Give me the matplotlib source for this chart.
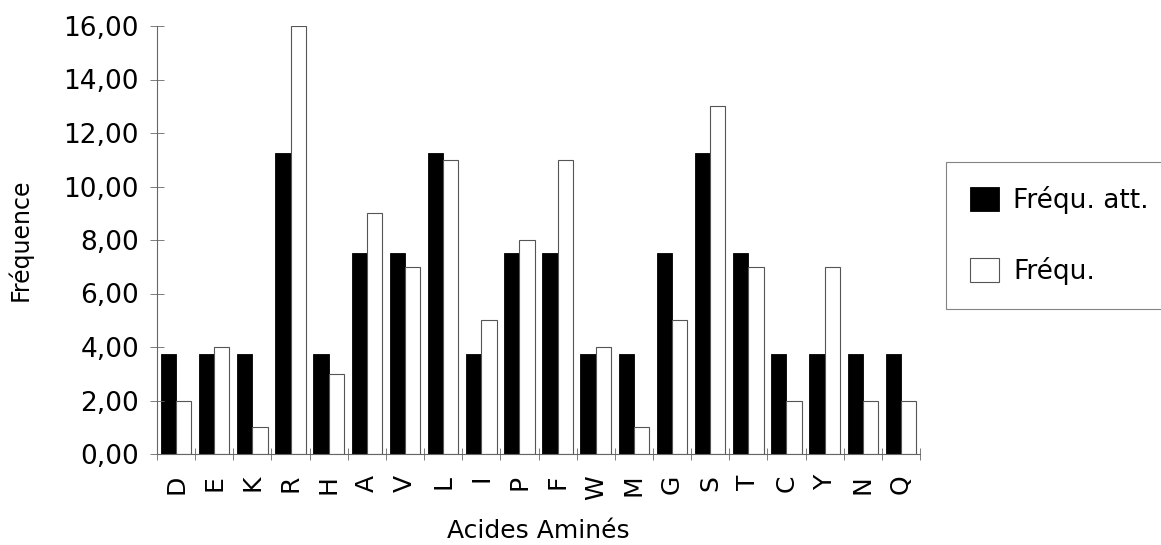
import numpy as np
import matplotlib
matplotlib.use('Agg')
import matplotlib.pyplot as plt
from matplotlib.ticker import FuncFormatter

# acides aminés et fréquences
acides = ['D', 'E', 'K', 'R', 'H', 'A', 'V', 'L', 'I', 'P',
          'F', 'W', 'M', 'G', 'S', 'T', 'C', 'Y', 'N', 'Q']
freq_att = [3.75, 3.75, 3.75, 11.25, 3.75, 7.5, 7.5, 11.25, 3.75, 7.5,
            7.5, 3.75, 3.75, 7.5, 11.25, 7.5, 3.75, 3.75, 3.75, 3.75]
freq = [2, 4, 1, 16, 3, 9, 7, 11, 5, 8,
        11, 4, 1, 5, 13, 7, 2, 7, 2, 2]
y_ticks = [0, 2, 4, 6, 8, 10, 12, 14, 16]

plt.rcParams['font.family'] = ['DejaVu Sans']

fig = plt.figure(figsize=(11.61, 5.45), dpi=100)
ax = fig.add_axes([157 / 1161, 1 - 454 / 545, (920 - 157) / 1161, (454 - 26) / 545])

x = np.arange(len(acides))
w = 0.4
ax.bar(x - w / 2, freq_att, w, color='black', edgecolor='black', linewidth=0.6,
       label='Fréqu. att.')
ax.bar(x + w / 2, freq, w, color='white', edgecolor='#555555', linewidth=0.8,
       label='Fréqu.')

ax.set_xlim(-0.5, len(acides) - 0.5)
ax.set_ylim(0, 16)
ax.set_yticks(y_ticks)
ax.yaxis.set_major_formatter(FuncFormatter(lambda v, p: f'{v:.2f}'.replace('.', ',')))
ax.set_xticks(x)
ax.set_xticklabels(acides, rotation=90, fontsize=18)
ax.set_xticks(np.arange(-0.5, len(acides)), minor=True)
ax.tick_params(axis='x', which='major', length=0, pad=15)
ax.tick_params(axis='x', which='minor', direction='inout', length=8, width=0.6, color='#666666')
ax.tick_params(axis='y', direction='inout', length=10, width=0.6, color='#666666',
               labelsize=19, pad=8)

for s in ['top', 'right']:
    ax.spines[s].set_visible(False)
for s in ['left', 'bottom']:
    ax.spines[s].set_color('#666666')
    ax.spines[s].set_linewidth(0.8)

ax.set_ylabel('Fréquence', fontsize=17, labelpad=22)
ax.set_xlabel('Acides Aminés', fontsize=18, labelpad=14)

leg = fig.legend(loc='upper left', bbox_to_anchor=(946 / 1161, 1 - 162 / 545),
                 fontsize=19, frameon=True, fancybox=False, edgecolor='#666666',
                 handlelength=1.1, handleheight=1.0, borderpad=0.9,
                 labelspacing=1.65, handletextpad=0.55, borderaxespad=0)
leg.get_frame().set_linewidth(0.8)

fig.savefig('out.png', dpi=100)
